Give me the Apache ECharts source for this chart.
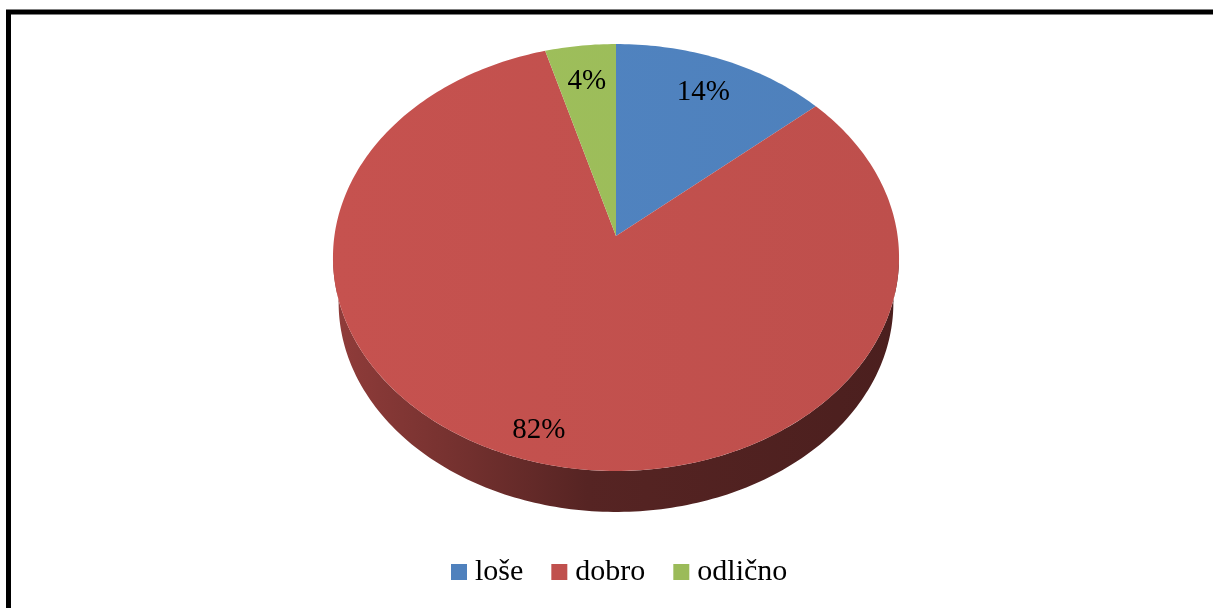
<!DOCTYPE html>
<html>
<head>
<meta charset="utf-8">
<script src="https://cdn.jsdelivr.net/npm/echarts@6/dist/echarts.min.js"></script>
<style>
html,body{margin:0;padding:0;background:#fff;}
#chart{width:1213px;height:608px;}
</style>
</head>
<body>
<div id="chart"></div>
<script>
// ---- data ----
const categories = ['loše', 'dobro', 'odlično'];
const values = [13.65, 81.9, 4.45];
const colors = ['#4F81BD', '#C0504D', '#9BBB59'];

// ---- projection of the tilted (3D) pie ----
const CX = 616, CY = 236;      // projected centre of the top face
const RX = 281.6, RY = 211.3;  // projected radii
const PERSP = 0.1007;          // perspective factor
const VPY = 2520;              // vanishing point of the vertical edges (below)
const SHRINK = 0.98;           // bottom face scale towards the vanishing point
const FONT = '"Liberation Serif","Times New Roman",serif';

const total = values.reduce((a, b) => a + b, 0);
const starts = [];
let acc = 0;
values.forEach(v => { starts.push(acc / total * 360); acc += v; });

function proj(deg, r) {
  const t = deg * Math.PI / 180;
  const u = r * Math.sin(t), v = r * Math.cos(t);
  const w = 1 + PERSP * v;
  return [CX + RX * u / w, CY - RY * v / w];
}
function projBottom(deg) {
  const p = proj(deg, 1);
  return [CX + (p[0] - CX) * SHRINK, VPY + (p[1] - VPY) * SHRINK];
}
function shade(hex, f) {
  const n = parseInt(hex.slice(1), 16);
  const r = Math.min(255, Math.round(((n >> 16) & 255) * f)),
        g = Math.min(255, Math.round(((n >> 8) & 255) * f)),
        b = Math.min(255, Math.round((n & 255) * f));
  return 'rgb(' + r + ',' + g + ',' + b + ')';
}
const visFrom = Math.acos(-PERSP) * 180 / Math.PI;   // right extreme
const visTo = 360 - visFrom;                           // left extreme

function renderSlice(params, api) {
  const i = params.seriesIndex;
  const val = api.value(0);
  const s = starts[i], e = s + val / total * 360;
  const color = colors[i];
  const children = [];
  // side wall (front part only)
  const a = Math.max(s, visFrom), b = Math.min(e, visTo);
  if (b > a) {
    const top = [], bot = [];
    const n = Math.max(2, Math.ceil(b - a));
    for (let k = 0; k <= n; k++) {
      const d = a + (b - a) * k / n;
      top.push(proj(d, 1));
      bot.push(projBottom(d));
    }
    children.push({
      type: 'polygon',
      shape: { points: top.concat(bot.reverse()) },
      style: {
        fill: new echarts.graphic.LinearGradient(CX - RX, 0, CX + RX, 0, [
          { offset: 0, color: shade(color, 0.75) },
          { offset: 0.2, color: shade(color, 0.62) },
          { offset: 0.45, color: shade(color, 0.45) },
          { offset: 1, color: shade(color, 0.39) }
        ], true)
      }
    });
  }
  // top face
  const pts = [[CX, CY]];
  const n2 = Math.max(2, Math.ceil(e - s));
  for (let k = 0; k <= n2; k++) pts.push(proj(s + (e - s) * k / n2, 1));
  children.push({
    type: 'polygon',
    shape: { points: pts },
    style: {
      fill: new echarts.graphic.LinearGradient(CX - RX, 0, CX + RX, 0, [
        { offset: 0, color: shade(color, 1.03) },
        { offset: 1, color: shade(color, 0.99) }
      ], true)
    }
  });
  // label
  const mid = (s + e) / 2;
  const back = Math.cos(mid * Math.PI / 180) > 0;
  const lp = proj(mid, back ? 0.8 : 0.88);
  children.push({
    type: 'text',
    x: lp[0], y: lp[1],
    style: {
      text: Math.round(val / total * 100) + '%',
      font: '29px ' + FONT,
      fill: '#000',
      align: 'center',
      verticalAlign: 'middle'
    },
    z2: 10
  });
  return { type: 'group', children: children };
}

const series = categories.map((name, i) => ({
  type: 'custom',
  name: name,
  coordinateSystem: 'none',
  renderItem: renderSlice,
  itemStyle: { color: colors[i] },
  data: [[values[i]]],
  silent: true,
  animation: false
}));

const chart = echarts.init(document.getElementById('chart'), null, { renderer: 'canvas' });
chart.setOption({
  animation: false,
  backgroundColor: '#fff',
  legend: {
    data: categories,
    left: 451,
    top: 557,
    padding: 0,
    icon: 'rect',
    itemWidth: 16,
    itemHeight: 16,
    itemGap: 28,
    selectedMode: false,
    textStyle: { fontFamily: FONT, fontSize: 30, color: '#000', padding: [0, 0, 0, 3], lineHeight: 30 }
  },
  graphic: [{
    type: 'polyline',
    shape: { points: [[8.5, 608], [8.5, 12], [1213, 12]] },
    style: { stroke: '#000', lineWidth: 5, fill: null },
    z: 100
  }],
  series: series
});
</script>
</body>
</html>
